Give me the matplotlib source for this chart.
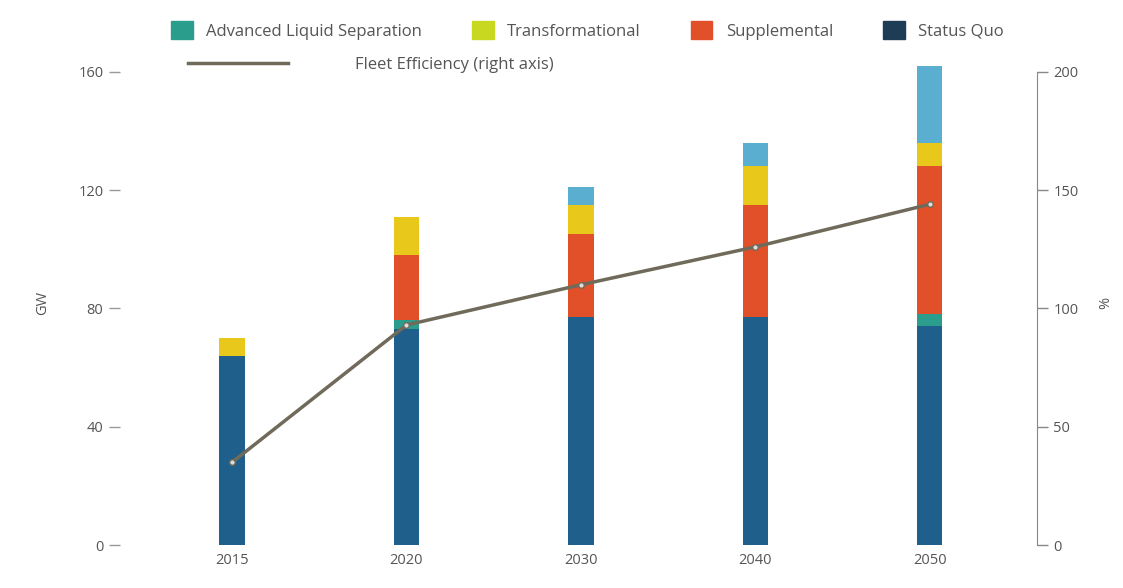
import matplotlib
matplotlib.use("Agg")
import matplotlib.pyplot as plt
from matplotlib.lines import Line2D
from matplotlib.patches import Patch
import numpy as np

plt.rcParams['font.family'] = ['Open Sans', 'DejaVu Sans']

years = ["2015", "2020", "2030", "2040", "2050"]

status_quo = [64, 73, 77, 77, 74]
advanced = [0, 3, 0, 0, 4]
supplemental = [0, 22, 28, 38, 50]
transformational = [6, 13, 10, 13, 8]
emerging = [0, 0, 6, 8, 26]

fleet_efficiency = [35, 93, 110, 126, 144]

left_ticks = [0, 40, 80, 120, 160]
right_ticks = [0, 50, 100, 150, 200]

c_status = "#1f5f8b"
c_adv = "#2a9d8c"
c_supp = "#e2502a"
c_trans = "#e8c81a"
c_emerg = "#5aaed0"
c_line = "#706a5a"
txt = "#555555"

fig = plt.figure(figsize=(11.23, 5.88), dpi=100)
ax = fig.add_axes([0.107, 0.073, 0.816, 0.825])

x = np.arange(len(years))
w = 0.145
bottom = np.zeros(len(years))
for vals, col in [(status_quo, c_status), (advanced, c_adv), (supplemental, c_supp),
                  (transformational, c_trans), (emerging, c_emerg)]:
    ax.bar(x, vals, w, bottom=bottom, color=col, zorder=2)
    bottom += np.array(vals)

ax.set_xlim(-0.642, 4.613)
ax.set_ylim(0, 164)
ax.set_yticks(left_ticks)
ax.set_xticks(x)
ax.set_xticklabels(years)
ax.tick_params(axis='x', length=0, colors=txt, labelsize=10.5, pad=6)
ax.tick_params(axis='y', length=8, width=1, colors="#999999", labelcolor=txt, labelsize=10.5, pad=4)
for s in ["top", "right", "left", "bottom"]:
    ax.spines[s].set_visible(False)
ax.set_ylabel("GW", color=txt, fontsize=10.5, labelpad=20)

ax2 = ax.twinx()
ax2.set_ylim(0, 200 * 164 / 160)
ax2.set_yticks(right_ticks)
ax2.plot(x, fleet_efficiency, color=c_line, lw=2.5, marker='o', ms=4,
         mfc="#dddddd", mec=c_line, zorder=3)
for s in ["top", "left", "bottom"]:
    ax2.spines[s].set_visible(False)
ax2.spines["right"].set_color("#888888")
ax2.spines["right"].set_bounds(0, 200)
ax2.tick_params(axis='y', length=8, width=1, colors="#888888", labelcolor=txt, labelsize=10.5, pad=4)
ax2.set_ylabel("%", color=txt, fontsize=10.5, labelpad=14)

bar_handles = [Patch(color=c_adv, label="Advanced Liquid Separation"),
               Patch(color="#c8d820", label="Transformational"),
               Patch(color=c_supp, label="Supplemental"),
               Patch(color="#1d3c55", label="Status Quo")]
fig.legend(handles=bar_handles, loc="center", bbox_to_anchor=(0.523, 0.948),
           ncol=4, frameon=False, fontsize=12, labelcolor=txt,
           handlelength=1.3, handleheight=1.3, columnspacing=3.0, handletextpad=0.8)
line_handle = [Line2D([0], [0], color=c_line, lw=2.5, label="Fleet Efficiency (right axis)")]
fig.legend(handles=line_handle, loc="center", bbox_to_anchor=(0.33, 0.89),
           frameon=False, fontsize=12, labelcolor=txt, handlelength=6, handletextpad=4)

fig.savefig("out.png", dpi=100, facecolor="white")
